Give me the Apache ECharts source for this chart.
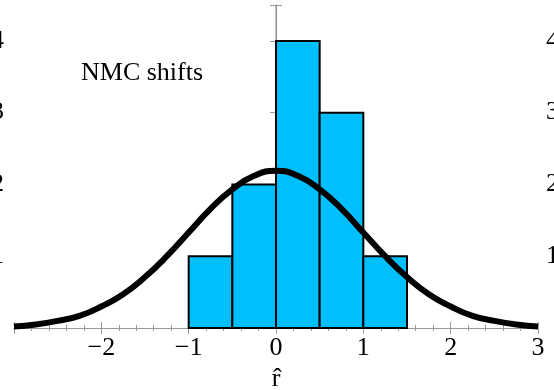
<!DOCTYPE html>
<html><head><meta charset="utf-8">
<script src="https://cdn.jsdelivr.net/npm/echarts@6/dist/echarts.min.js"></script>
<style>html,body{margin:0;padding:0;background:#fff}#c{width:554px;height:390px}</style>
</head><body><div id="c"></div>
<script>
// Histogram bins (left edge, right edge) and counts
const binLeft = [-1, -0.5, 0, 0.5, 1];
const binRight = [-0.5, 0, 0.5, 1, 1.5];
const counts = [1, 2, 4, 3, 1];
// Fitted curve points
const curveX = [-3,-2.75,-2.5,-2.25,-2,-1.75,-1.5,-1.25,-1,-0.75,-0.5,-0.25,0,0.25,0.5,0.75,1,1.25,1.5,1.75,2,2.25,2.5,2.75,3];
const curveY = [0.02,0.05,0.10,0.17,0.30,0.47,0.71,1.00,1.33,1.66,1.93,2.12,2.19,2.12,1.93,1.66,1.33,1.00,0.71,0.47,0.30,0.17,0.10,0.05,0.02];
const xTicks = [-3,-2,-1,0,1,2,3];
const yTicks = [0,1,2,3,4];
const annotation = 'NMC shifts';
const xTitle = 'r\u0302';

const font = 'Liberation Serif';
const frame = '#9a9a9a';
const chart = echarts.init(document.getElementById('c'), null, {renderer:'canvas'});
const fmt = v => (v < 0 ? '\u2212' + Math.abs(v) : String(v));
const xBase = {
  type:'value', min:-3, max:3, interval:1, splitNumber:5,
  axisLine:{show:true, lineStyle:{color:frame, width:1}},
  axisTick:{show:true, inside:true, length:6, lineStyle:{color:frame}},
  minorTick:{show:true, splitNumber:5, length:3, lineStyle:{color:frame}},
  splitLine:{show:false}
};
const yBase = {
  type:'value', min:0, max:4.5, interval:1,
  axisLine:{show:true, lineStyle:{color:frame, width:1}},
  axisTick:{show:true, inside:true, length:6, lineStyle:{color:frame}},
  splitLine:{show:false}
};
const yFmt = v => (v === 0 || !yTicks.includes(v)) ? '' : String(v);
chart.setOption({
  animation:false,
  grid:{left:14, right:16, top:5, bottom:62, containLabel:false, outerBoundsMode:'none'},
  xAxis:[
    Object.assign({}, xBase, {position:'bottom',
      axisLabel:{show:true, margin:7, color:'#000', fontFamily:font, fontSize:26, formatter:v => (xTicks.includes(v) && v !== -3) ? fmt(v) : ''},
      name:xTitle, nameLocation:'middle', nameGap:36, nameTextStyle:{color:'#000', fontFamily:font, fontSize:26}}),
    Object.assign({}, xBase, {position:'top', axisLabel:{show:false}})
  ],
  yAxis:[
    Object.assign({}, yBase, {position:'left', axisLabel:{show:true, margin:10, color:'#000', fontFamily:font, fontSize:26, formatter:yFmt}}),
    Object.assign({}, yBase, {position:'right', axisLabel:{show:true, margin:8, color:'#000', fontFamily:font, fontSize:26, formatter:yFmt}})
  ],
  graphic:[{type:'text', left:81, top:60, style:{text:annotation, font:'26px "Liberation Serif"', fill:'#000'}}],
  series:[
    {type:'line', xAxisIndex:0, yAxisIndex:0, data:[[0,0],[0,4.5]], symbol:'none', z:1,
      lineStyle:{color:'#888', width:1}, silent:true},
    {type:'custom', xAxisIndex:0, yAxisIndex:0, z:2,
      data: counts.map((c,i) => [binLeft[i], binRight[i], c]),
      renderItem:(params, api) => {
        const p0 = api.coord([api.value(0), api.value(2)]);
        const p1 = api.coord([api.value(1), 0]);
        return {type:'rect', shape:{x:p0[0], y:p0[1], width:p1[0]-p0[0], height:p1[1]-p0[1]},
          style:{fill:'#00BFFF', stroke:'#000', lineWidth:2}};
      }},
    {type:'line', xAxisIndex:0, yAxisIndex:0, z:3, smooth:true, symbol:'none',
      data: curveX.map((x,i) => [x, curveY[i]]),
      lineStyle:{color:'#000', width:6}}
  ]
});
</script></body></html>
